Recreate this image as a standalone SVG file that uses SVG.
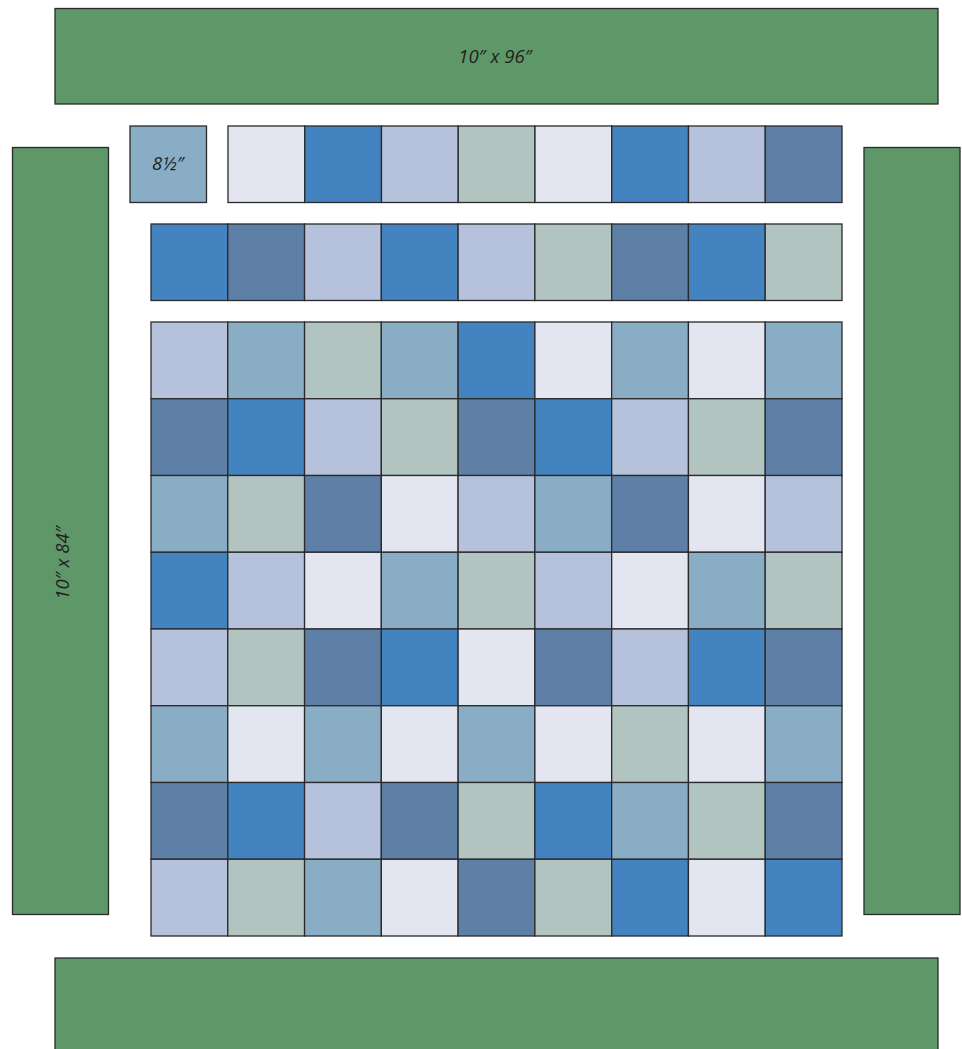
<svg xmlns="http://www.w3.org/2000/svg" width="962" height="1049" viewBox="0 0 962 1049">
<style>
rect{stroke:#2a2a2c;stroke-width:1.3}
.g{fill:#5e9768}
.A{fill:#e3e6f0}.B{fill:#4383bf}.C{fill:#b6c2db}.D{fill:#b2c4bf}.E{fill:#5e80a6}.F{fill:#8aadc6}
text{font-family:"Open Sans","Liberation Sans",sans-serif;font-style:italic;font-size:18.5px;fill:#231f20;text-anchor:middle}
</style>
<rect width="962" height="1049" style="fill:#ffffff;stroke:none"/>
<g id="border-top"><rect class="g" x="55" y="8.5" width="883" height="95.5"/><text x="495" y="63">10″ x 96″</text></g>
<g id="border-left"><rect class="g" x="12.5" y="147.5" width="96" height="767"/><text transform="translate(69,563) rotate(-90)">10″ x 84″</text></g>
<g id="border-right"><rect class="g" x="864" y="147.5" width="96" height="767"/></g>
<g id="border-bottom"><rect class="g" x="55" y="958" width="883" height="100"/></g>
<g id="block-label"><rect class="F" x="130" y="126" width="76.5" height="76.5"/><text x="168" y="170">8½″</text></g>
<g id="row-top">
<rect class="A" x="228" y="126" width="76.75" height="76.5"/>
<rect class="B" x="304.75" y="126" width="76.75" height="76.5"/>
<rect class="C" x="381.5" y="126" width="76.75" height="76.5"/>
<rect class="D" x="458.25" y="126" width="76.75" height="76.5"/>
<rect class="A" x="535" y="126" width="76.75" height="76.5"/>
<rect class="B" x="611.75" y="126" width="76.75" height="76.5"/>
<rect class="C" x="688.5" y="126" width="76.75" height="76.5"/>
<rect class="E" x="765.25" y="126" width="76.75" height="76.5"/>
</g>
<g id="row-second">
<rect class="B" x="151" y="224" width="76.78" height="76.5"/>
<rect class="E" x="227.78" y="224" width="76.78" height="76.5"/>
<rect class="C" x="304.56" y="224" width="76.78" height="76.5"/>
<rect class="B" x="381.33" y="224" width="76.78" height="76.5"/>
<rect class="C" x="458.11" y="224" width="76.78" height="76.5"/>
<rect class="D" x="534.89" y="224" width="76.78" height="76.5"/>
<rect class="E" x="611.67" y="224" width="76.78" height="76.5"/>
<rect class="B" x="688.44" y="224" width="76.78" height="76.5"/>
<rect class="D" x="765.22" y="224" width="76.78" height="76.5"/>
</g>
<g id="grid">
<rect class="C" x="151" y="322" width="76.78" height="76.75"/><rect class="F" x="227.78" y="322" width="76.78" height="76.75"/><rect class="D" x="304.56" y="322" width="76.78" height="76.75"/><rect class="F" x="381.33" y="322" width="76.78" height="76.75"/><rect class="B" x="458.11" y="322" width="76.78" height="76.75"/><rect class="A" x="534.89" y="322" width="76.78" height="76.75"/><rect class="F" x="611.67" y="322" width="76.78" height="76.75"/><rect class="A" x="688.44" y="322" width="76.78" height="76.75"/><rect class="F" x="765.22" y="322" width="76.78" height="76.75"/>
<rect class="E" x="151" y="398.75" width="76.78" height="76.75"/><rect class="B" x="227.78" y="398.75" width="76.78" height="76.75"/><rect class="C" x="304.56" y="398.75" width="76.78" height="76.75"/><rect class="D" x="381.33" y="398.75" width="76.78" height="76.75"/><rect class="E" x="458.11" y="398.75" width="76.78" height="76.75"/><rect class="B" x="534.89" y="398.75" width="76.78" height="76.75"/><rect class="C" x="611.67" y="398.75" width="76.78" height="76.75"/><rect class="D" x="688.44" y="398.75" width="76.78" height="76.75"/><rect class="E" x="765.22" y="398.75" width="76.78" height="76.75"/>
<rect class="F" x="151" y="475.5" width="76.78" height="76.75"/><rect class="D" x="227.78" y="475.5" width="76.78" height="76.75"/><rect class="E" x="304.56" y="475.5" width="76.78" height="76.75"/><rect class="A" x="381.33" y="475.5" width="76.78" height="76.75"/><rect class="C" x="458.11" y="475.5" width="76.78" height="76.75"/><rect class="F" x="534.89" y="475.5" width="76.78" height="76.75"/><rect class="E" x="611.67" y="475.5" width="76.78" height="76.75"/><rect class="A" x="688.44" y="475.5" width="76.78" height="76.75"/><rect class="C" x="765.22" y="475.5" width="76.78" height="76.75"/>
<rect class="B" x="151" y="552.25" width="76.78" height="76.75"/><rect class="C" x="227.78" y="552.25" width="76.78" height="76.75"/><rect class="A" x="304.56" y="552.25" width="76.78" height="76.75"/><rect class="F" x="381.33" y="552.25" width="76.78" height="76.75"/><rect class="D" x="458.11" y="552.25" width="76.78" height="76.75"/><rect class="C" x="534.89" y="552.25" width="76.78" height="76.75"/><rect class="A" x="611.67" y="552.25" width="76.78" height="76.75"/><rect class="F" x="688.44" y="552.25" width="76.78" height="76.75"/><rect class="D" x="765.22" y="552.25" width="76.78" height="76.75"/>
<rect class="C" x="151" y="629" width="76.78" height="76.75"/><rect class="D" x="227.78" y="629" width="76.78" height="76.75"/><rect class="E" x="304.56" y="629" width="76.78" height="76.75"/><rect class="B" x="381.33" y="629" width="76.78" height="76.75"/><rect class="A" x="458.11" y="629" width="76.78" height="76.75"/><rect class="E" x="534.89" y="629" width="76.78" height="76.75"/><rect class="C" x="611.67" y="629" width="76.78" height="76.75"/><rect class="B" x="688.44" y="629" width="76.78" height="76.75"/><rect class="E" x="765.22" y="629" width="76.78" height="76.75"/>
<rect class="F" x="151" y="705.75" width="76.78" height="76.75"/><rect class="A" x="227.78" y="705.75" width="76.78" height="76.75"/><rect class="F" x="304.56" y="705.75" width="76.78" height="76.75"/><rect class="A" x="381.33" y="705.75" width="76.78" height="76.75"/><rect class="F" x="458.11" y="705.75" width="76.78" height="76.75"/><rect class="A" x="534.89" y="705.75" width="76.78" height="76.75"/><rect class="D" x="611.67" y="705.75" width="76.78" height="76.75"/><rect class="A" x="688.44" y="705.75" width="76.78" height="76.75"/><rect class="F" x="765.22" y="705.75" width="76.78" height="76.75"/>
<rect class="E" x="151" y="782.5" width="76.78" height="76.75"/><rect class="B" x="227.78" y="782.5" width="76.78" height="76.75"/><rect class="C" x="304.56" y="782.5" width="76.78" height="76.75"/><rect class="E" x="381.33" y="782.5" width="76.78" height="76.75"/><rect class="D" x="458.11" y="782.5" width="76.78" height="76.75"/><rect class="B" x="534.89" y="782.5" width="76.78" height="76.75"/><rect class="F" x="611.67" y="782.5" width="76.78" height="76.75"/><rect class="D" x="688.44" y="782.5" width="76.78" height="76.75"/><rect class="E" x="765.22" y="782.5" width="76.78" height="76.75"/>
<rect class="C" x="151" y="859.25" width="76.78" height="76.75"/><rect class="D" x="227.78" y="859.25" width="76.78" height="76.75"/><rect class="F" x="304.56" y="859.25" width="76.78" height="76.75"/><rect class="A" x="381.33" y="859.25" width="76.78" height="76.75"/><rect class="E" x="458.11" y="859.25" width="76.78" height="76.75"/><rect class="D" x="534.89" y="859.25" width="76.78" height="76.75"/><rect class="B" x="611.67" y="859.25" width="76.78" height="76.75"/><rect class="A" x="688.44" y="859.25" width="76.78" height="76.75"/><rect class="B" x="765.22" y="859.25" width="76.78" height="76.75"/>
</g>
<g id="connectors"/>
</svg>
